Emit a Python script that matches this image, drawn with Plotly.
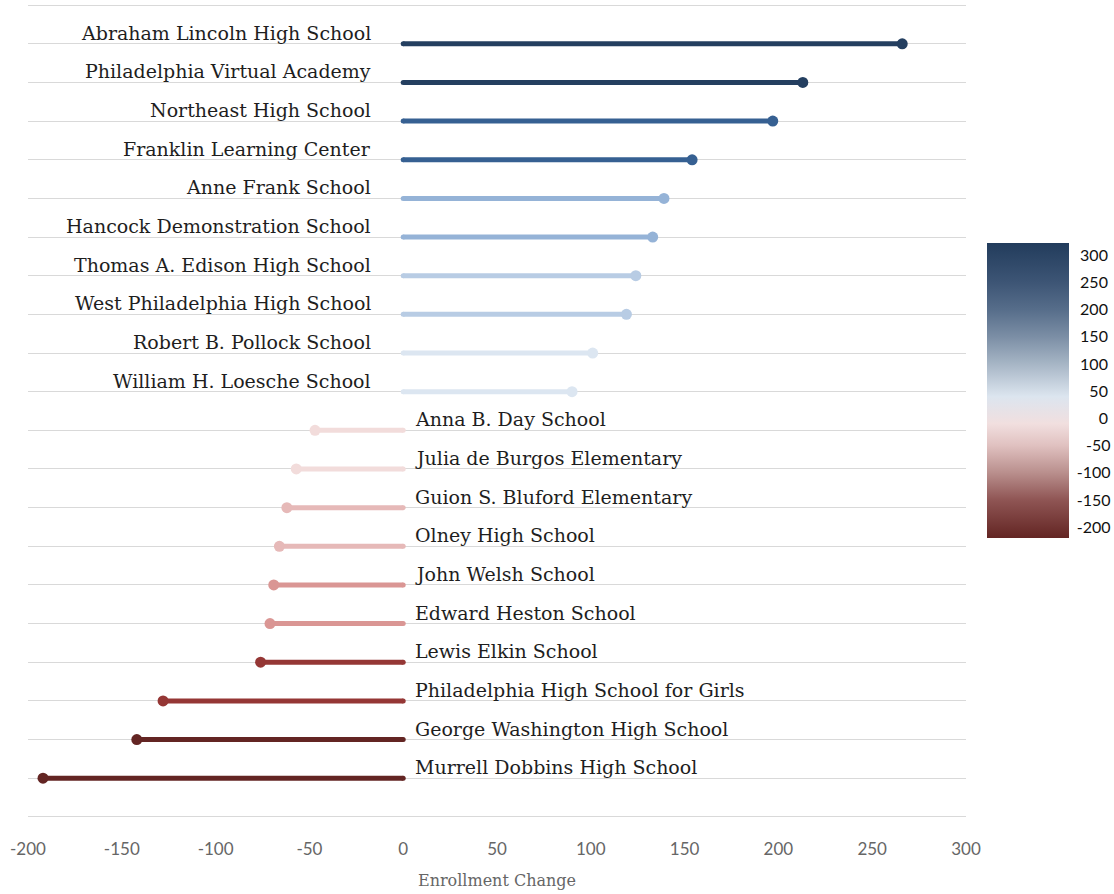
import plotly.graph_objects as go

schools = [
    "Abraham Lincoln High School", "Philadelphia Virtual Academy", "Northeast High School",
    "Franklin Learning Center", "Anne Frank School", "Hancock Demonstration School",
    "Thomas A. Edison High School", "West Philadelphia High School", "Robert B. Pollock School",
    "William H. Loesche School", "Anna B. Day School", "Julia de Burgos Elementary",
    "Guion S. Bluford Elementary", "Olney High School", "John Welsh School",
    "Edward Heston School", "Lewis Elkin School", "Philadelphia High School for Girls",
    "George Washington High School", "Murrell Dobbins High School",
]
changes = [266, 213, 197, 154, 139, 133, 124, 119, 101, 90,
           -47, -57, -62, -66, -69, -71, -76, -128, -142, -192]
colors = ["#243f60", "#243f60", "#366092", "#366092", "#95b3d7", "#95b3d7",
          "#b8cce4", "#b8cce4", "#dce6f1", "#dce6f1",
          "#f2dcdb", "#f2dcdb", "#e6b9b8", "#e6b9b8", "#da9694", "#da9694",
          "#953735", "#953735", "#632523", "#632523"]
cbar_ticks = [-200, -150, -100, -50, 0, 50, 100, 150, 200, 250, 300]
x_ticks = [-200, -150, -100, -50, 0, 50, 100, 150, 200, 250, 300]
cmin, cmax = -220, 322

label_font = dict(family="DejaVu Serif", size=19, color="#1e1e1e")
fig = go.Figure()
for i, (name, v, c) in enumerate(zip(schools, changes, colors)):
    fig.add_trace(go.Scatter(
        x=[0, v], y=[i, i], mode="lines+markers",
        line=dict(color=c, width=5),
        marker=dict(color=c, size=[5, 11], opacity=1, line=dict(width=0)),
        showlegend=False, hoverinfo="skip"))
    if v >= 0:
        fig.add_annotation(x=0, y=i, text=name, showarrow=False, xanchor="right",
                           yanchor="middle", xshift=-30, yshift=11, font=label_font)
    else:
        fig.add_annotation(x=0, y=i, text=name, showarrow=False, xanchor="left",
                           yanchor="middle", xshift=10, yshift=11, font=label_font)

def pad(t):
    s = str(t)
    if t >= 0:
        return "\u2008" + "\u2007" * (3 - len(s)) + s
    return "\u2007" * (4 - len(s)) + s

cs = [
    [0.0, "#632523"],
    [(-150 - cmin) / (cmax - cmin), "#8f5554"],
    [(-100 - cmin) / (cmax - cmin), "#b98f8d"],
    [(-50 - cmin) / (cmax - cmin), "#e0c1c0"],
    [(-10 - cmin) / (cmax - cmin), "#f1dfdf"],
    [(40 - cmin) / (cmax - cmin), "#dce5ef"],
    [(100 - cmin) / (cmax - cmin), "#a6b5c5"],
    [(150 - cmin) / (cmax - cmin), "#7b8ea5"],
    [(200 - cmin) / (cmax - cmin), "#566d8a"],
    [(250 - cmin) / (cmax - cmin), "#3d5575"],
    [1.0, "#223c5c"],
]
fig.add_trace(go.Scatter(
    x=[None, None], y=[None, None], mode="markers",
    marker=dict(color=[cmin, cmax], cmin=cmin, cmax=cmax, colorscale=cs, showscale=True,
                colorbar=dict(x=1.0213, xanchor="left", y=0.525, yanchor="middle",
                              thickness=82, len=295, lenmode="pixels", xpad=0, ypad=0,
                              outlinewidth=0, ticks="outside", ticklen=5,
                              tickcolor="rgba(0,0,0,0)", tickvals=cbar_ticks,
                              ticktext=[pad(t) for t in cbar_ticks],
                              tickfont=dict(family="Lato", size=16, color="#111111"))),
    showlegend=False, hoverinfo="skip"))

fig.update_layout(
    width=1114, height=894,
    margin=dict(l=28, r=147, t=4, b=76),
    plot_bgcolor="white", paper_bgcolor="white",
    xaxis=dict(range=[-200, 300], tickvals=x_ticks, ticktext=[str(t) for t in x_ticks],
               showgrid=False, zeroline=False, showline=False,
               ticks="outside", ticklen=16, tickcolor="rgba(0,0,0,0)",
               tickfont=dict(family="Lato", size=17, color="#666666"),
               title=dict(text="Enrollment Change", standoff=16,
                          font=dict(family="DejaVu Serif", size=16, color="#666666"))),
    yaxis=dict(range=[20.03, -1.03], tickmode="linear", tick0=0, dtick=1, showticklabels=False,
               showgrid=True, gridcolor="#d9d9d9", gridwidth=1, zeroline=False, showline=False),
)
fig.write_html("out.html", config={"displayModeBar": False},
               post_script="document.body.style.margin='0px';")
